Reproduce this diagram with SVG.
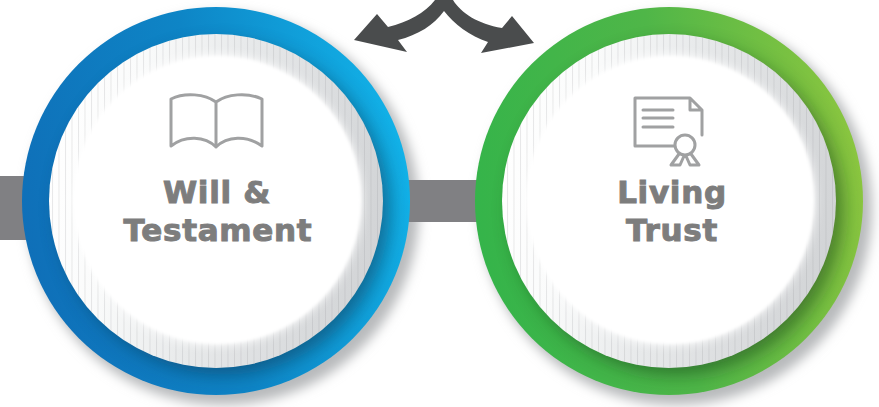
<svg xmlns="http://www.w3.org/2000/svg" width="879" height="407" viewBox="0 0 879 407">
<style>
.lbl{font-family:"DejaVu Sans","Liberation Sans",sans-serif;font-weight:700;font-size:31px;text-anchor:middle;fill:#7d7d7d;stroke:#7d7d7d;stroke-width:1px;letter-spacing:.7px}
.ico{fill:none;stroke:#a0a1a2;stroke-width:3;stroke-linejoin:round;stroke-linecap:round}
.conn{fill:#808083}
.arrow{fill:#4a4c4d}
</style>
<defs>
<linearGradient id="blue" x1="0" y1=".6" x2="1" y2=".4"><stop offset="0" stop-color="#0f6fb8"/><stop offset=".5" stop-color="#0e85c6"/><stop offset="1" stop-color="#12b2e8"/></linearGradient>
<linearGradient id="green" x1="0" y1=".5" x2="1" y2=".35"><stop offset="0" stop-color="#35b44a"/><stop offset=".5" stop-color="#4fb648"/><stop offset="1" stop-color="#8cc63f"/></linearGradient>
<linearGradient id="plate" x1="0" y1=".35" x2="1" y2=".55"><stop offset="0" stop-color="#ffffff"/><stop offset=".22" stop-color="#fafbfb"/><stop offset=".5" stop-color="#e8eaeb"/><stop offset=".85" stop-color="#d8dadc"/><stop offset="1" stop-color="#d2d4d6"/></linearGradient>
<linearGradient id="fade" x1="0" y1="0" x2="1" y2="0"><stop offset="0" stop-color="#fff" stop-opacity=".15"/><stop offset=".4" stop-color="#fff" stop-opacity=".8"/><stop offset="1" stop-color="#fff"/></linearGradient>
<pattern id="ribs" width="6.5" height="10" patternUnits="userSpaceOnUse"><rect width="1" height="10" fill="#8a8d90" opacity=".2"/></pattern>
<filter id="b6" x="-20%" y="-20%" width="140%" height="140%"><feGaussianBlur stdDeviation="6"/></filter>
<filter id="b9" x="-20%" y="-20%" width="140%" height="140%"><feGaussianBlur stdDeviation="9"/></filter>
<filter id="b3" x="-20%" y="-20%" width="140%" height="140%"><feGaussianBlur stdDeviation="1.5"/></filter>
<filter id="b4" x="-20%" y="-20%" width="140%" height="140%"><feGaussianBlur stdDeviation="4"/></filter>
<clipPath id="cl"><circle cx="216" cy="201" r="194"/></clipPath>
<clipPath id="cr"><circle cx="669" cy="201" r="194"/></clipPath>
</defs>
<rect width="879" height="407" fill="#fff"/>
<g id="shadows">
<circle cx="223" cy="209" r="196" fill="#b8babc" filter="url(#b6)"/>
<circle cx="676" cy="209" r="196" fill="#b8babc" filter="url(#b6)"/>
</g>
<g id="connectors">
<rect class="conn" x="0" y="176" width="30" height="64"/>
<rect class="conn" x="405" y="180" width="76" height="42"/>
<path class="arrow" d="M354 40 L377 14 L388 27 C408 22 425 13 435 0 L453 0 C461 13 478 24 502 28 L512 16 L534 43 L481 53 L488 42 C470 36 454 24 444 11 C434 25 418 35 398 40 L407 52 Z"/>
</g>
<g id="node-will">
<circle cx="216" cy="201" r="194" fill="url(#blue)"/>
<g clip-path="url(#cl)"><circle cx="224" cy="209" r="166" fill="#0a3550" opacity=".5" filter="url(#b9)"/></g>
<circle cx="216" cy="201" r="167" fill="url(#plate)"/>
<circle cx="216" cy="201" r="167" fill="url(#ribs)"/>
<circle cx="216" cy="200" r="146" fill="url(#fade)" filter="url(#b4)"/>
<circle cx="217" cy="200" r="144" fill="#fff" filter="url(#b3)"/>
<path class="ico" d="M216 102 C205 94 185 92 171 99 V146 C185 135 205 136 216 147 C227 136 247 135 262 146 V99 C247 92 227 94 216 102 V147"/>
<text class="lbl" x="217" y="203">Will &amp;</text>
<text class="lbl" x="218" y="241">Testament</text>
</g>
<g id="node-trust">
<circle cx="669" cy="201" r="194" fill="url(#green)"/>
<g clip-path="url(#cr)"><circle cx="677" cy="209" r="166" fill="#123a14" opacity=".5" filter="url(#b9)"/></g>
<circle cx="669" cy="201" r="167" fill="url(#plate)"/>
<circle cx="669" cy="201" r="167" fill="url(#ribs)"/>
<circle cx="669" cy="200" r="146" fill="url(#fade)" filter="url(#b4)"/>
<circle cx="670" cy="200" r="144" fill="#fff" filter="url(#b3)"/>
<path class="ico" d="M674 146 H635 V98 H690 L702 110 V135 M690 98 V110 H702"/>
<path class="ico" d="M643 110 H673 M643 118 H673 M643 127 H673"/>
<circle class="ico" cx="685" cy="145" r="10"/>
<path class="ico" d="M679 154 L671 165 H680 L684 156 M691 154 L699 165 H690 L686 156"/>
<text class="lbl" x="672" y="203">Living</text>
<text class="lbl" x="672" y="241">Trust</text>
</g>
</svg>
